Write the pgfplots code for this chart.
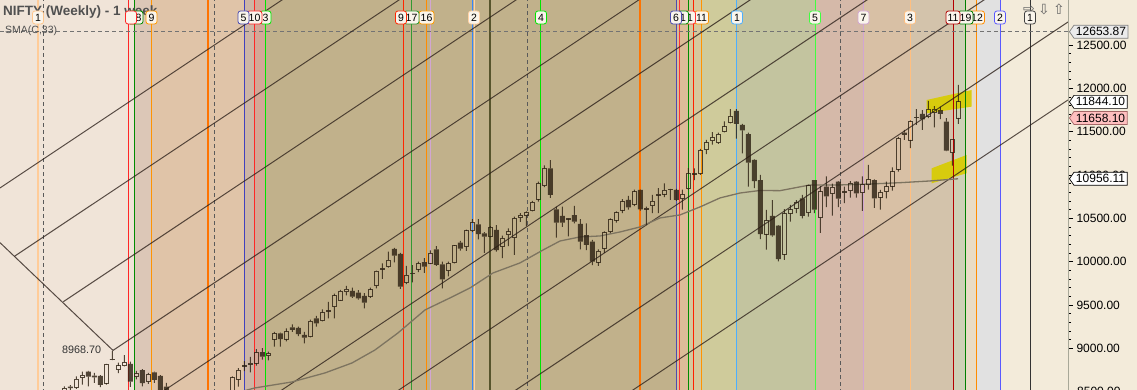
\documentclass[border=0pt]{standalone}
\usepackage{pgfplots}
\usepackage{pgfplotstable}
\pgfplotsset{compat=1.18}
\usepackage{fontspec}
\setmainfont{Liberation Sans}
\newfontfamily\symfont{DejaVu Sans}
\usetikzlibrary{shapes.symbols}

\definecolor{bgA}{HTML}{F0E4D8}
\definecolor{bgB}{HTML}{DCC7B7}
\definecolor{bgC}{HTML}{E0C4A8}
\definecolor{bgD}{HTML}{CDB5A5}
\definecolor{bgE}{HTML}{D3A797}
\definecolor{bgF}{HTML}{C1B18B}
\definecolor{bgG}{HTML}{DCBC98}
\definecolor{bgH}{HTML}{D6C99E}
\definecolor{bgI}{HTML}{CFCB9B}
\definecolor{bgJ}{HTML}{C3C49F}
\definecolor{bgK}{HTML}{D5B9A9}
\definecolor{bgL}{HTML}{D8C0A5}
\definecolor{bgM}{HTML}{D3C3AB}
\definecolor{bgN}{HTML}{CED1B6}
\definecolor{bgO}{HTML}{E9DCC6}
\definecolor{bgP}{HTML}{E1E1E1}
\definecolor{panel}{HTML}{F3EBDA}
\definecolor{candle}{HTML}{2A1E10}
\definecolor{diag}{HTML}{2A1E18}
\definecolor{smacol}{HTML}{7D7460}
\definecolor{yel}{HTML}{D8CC00}
\definecolor{dashc}{HTML}{5A5A5A}
\definecolor{titlec}{HTML}{505050}
\definecolor{axisgray}{HTML}{A8A898}
\definecolor{lblfill}{HTML}{FAF5EC}

\pgfplotstableread{
i o h l c
0 8390 8560 8380 8541
1 8556 8575 8500 8541
2 8545 8675 8530 8645
3 8662 8730 8580 8690
4 8730 8740 8560 8672
5 8683 8715 8600 8663
6 8680 8690 8550 8576
7 8596 8820 8580 8815
8 8875 8968.7 8862 8866
9 8752 8834 8712 8796
10 8796 8920 8790 8838
11 8819 8845 8555 8614
12 8672 8740 8640 8711
13 8747 8760 8560 8596
14 8614 8715 8590 8700
15 8722 8730 8600 8634
16 8680 8690 8400 8433
17 8557 8600 8002 8296
18 8300 8315 8000 8074
19 8050 8180 7917 8114
20 8140 8250 8060 8086
21 8090 8275 8060 8261
22 8260 8275 8100 8139
23 8130 8140 7940 7986
24 7990 8200 7893 8186
25 8190 8260 8140 8244
26 8240 8410 8230 8400
27 8400 8460 8340 8349
28 8370 8675 8360 8660
29 8642 8770 8557 8749
30 8790 8850 8735 8796
31 8815 8900 8720 8827
32 8827 8990 8800 8950
33 8954 9000 8870 8904
34 8915 8960 8860 8942
35 9104 9190 9020 9173
36 9173 9180 9020 9104
37 9107 9230 9080 9192
38 9240 9275 9190 9211
39 9235 9250 9140 9162
40 9153 9190 9055 9123
41 9134 9330 9125 9315
42 9346 9373 9250 9288
43 9319 9450 9310 9411
44 9425 9535 9346 9434
45 9480 9630 9346 9604
46 9557 9675 9550 9661
47 9650 9719 9611 9681
48 9661 9700 9580 9596
49 9642 9670 9560 9577
50 9604 9635 9460 9527
51 9596 9700 9580 9673
52 9723 9897 9690 9892
53 9915 9981 9800 9923
54 9942 10115 9930 10019
55 10146 10160 9990 10069
56 10088 10100 9685 9711
57 9757 9950 9740 9846
58 9858 9960 9760 9865
59 9912 10000 9880 9981
60 9993 10039 9870 9942
61 9981 10130 9970 10097
62 10142 10180 9950 9962
63 9969 10000 9690 9796
64 9896 10000 9830 9981
65 9988 10190 9980 10181
66 10219 10240 10127 10150
67 10173 10370 10123 10354
68 10357 10490 10340 10454
69 10431 10490 10258 10316
70 10327 10340 10100 10289
71 10289 10410 10280 10396
72 10365 10420 10115 10134
73 10173 10300 10040 10269
74 10308 10385 10180 10346
75 10277 10520 10077 10500
76 10508 10560 10460 10538
77 10535 10580 10410 10565
78 10588 10700 10580 10685
79 10720 10923 10692 10904
80 10877 11110 10860 11077
81 11077 11171 10736 10770
82 10604 10634 10276 10450
83 10527 10634 10400 10450
84 10490 10500 10290 10496
85 10538 10642 10442 10461
86 10435 10489 10140 10230
87 10307 10442 10134 10192
88 10230 10250 9960 9999
89 9993 10140 9951 10123
90 10154 10350 10100 10334
91 10346 10500 10330 10481
92 10480 10580 10450 10564
93 10596 10720 10560 10692
94 10712 10760 10600 10627
95 10662 10830 10640 10806
96 10827 10830 10590 10604
97 10605 10634 10420 10616
98 10646 10770 10560 10700
99 10768 10847 10560 10777
100 10781 10904 10743 10827
101 10830 10840 10712 10835
102 10827 10840 10700 10714
103 10727 10830 10600 10777
104 10842 11080 10830 11020
105 11010 11077 10942 11015
106 11015 11300 11000 11285
107 11289 11404 11240 11373
108 11393 11495 11350 11435
109 11373 11490 11360 11473
110 11500 11620 11493 11558
111 11604 11760 11597 11681
112 11740 11760 11420 11589
113 11577 11590 11250 11515
114 11473 11490 10866 11143
115 11173 11180 10847 10930
116 10942 11000 10261 10316
117 10319 10596 10138 10472
118 10527 10710 10289 10303
119 10415 10420 10004 10030
120 10085 10606 10020 10553
121 10558 10654 10461 10600
122 10616 10710 10560 10682
123 10731 10770 10500 10527
124 10565 10890 10520 10877
125 10942 10942 10560 10600
126 10507 10870 10333 10805
127 10866 10985 10630 10754
128 10789 10900 10530 10860
129 10923 10930 10630 10727
130 10800 10866 10674 10808
131 10816 10930 10740 10904
132 10923 10930 10740 10789
133 10796 10983 10585 10894
134 10885 11118 10830 10950
135 10942 10950 10620 10731
136 10743 10827 10600 10796
137 10808 10923 10730 10866
138 10873 11089 10820 11035
139 11069 11440 11040 11424
140 11489 11520 11404 11462
141 11404 11630 11311 11616
142 11660 11761 11577 11665
143 11704 11750 11520 11642
144 11673 11856 11655 11759
145 11720 11796 11550 11759
146 11750 11789 11645 11704
147 11616 11655 11275 11281
148 11258 11412 11108 11412
149 11658.1 12041 11591 11844.1
}\candles

\pgfplotsset{
  band/.style={draw=none, fill=#1},
  vl/.style={draw=#1, line width=0.9pt},
  dl/.style={draw=dashc, line width=0.9pt, dash pattern=on 4pt off 3pt},
  dg/.style={draw=diag, draw opacity=0.78, line width=1pt},
  common/.style={at={(0pt,0pt)}, anchor=south west, width=1068pt, height=390pt,
    scale only axis, xmin=0, xmax=1068, ymin=8518, ymax=13020, clip mode=individual},
}
\tikzset{
  lbl/.style={draw=#1, fill=lblfill, rounded corners=2.5pt, line width=0.8pt,
    inner xsep=1.6pt, inner ysep=0pt, minimum height=13pt, minimum width=11pt,
    font=\fontsize{10.5}{10.5}\selectfont, text=black},
  tag/.style={signal, signal to=west, signal pointer angle=110, draw=#1, line width=0.7pt,
    inner xsep=2pt, inner ysep=1pt, minimum height=13pt, anchor=west,
    font=\fontsize{12}{12}\selectfont, text=black},
}

\begin{document}
\begin{tikzpicture}
\useasboundingbox (0,0) rectangle (1137pt,390pt);
\clip (0,0) rectangle (1137pt,390pt);
\fill[panel] (0,0) rectangle (1137pt,390pt);

\begin{axis}[common, axis x line=none, axis y line*=right, axis on top,
  ytick={9000,9500,...,12500}, minor y tick num=4, tick align=outside,
  major tick length=5pt, minor tick length=3pt, scaled y ticks=false,
  y axis line style={draw=axisgray, line width=0.8pt},
  tick style={black, line width=0.6pt},
  yticklabel style={font=\fontsize{12}{12}\selectfont, text=black,
    /pgf/number format/fixed, /pgf/number format/fixed zerofill,
    /pgf/number format/precision=2, /pgf/number format/1000 sep={},
    /pgf/number format/assume math mode=true}]
% background bands
\addplot[band=bgA] coordinates {(0,8000) (0,14000) (134.3,14000) (134.3,8000)} -- cycle;
\addplot[band=bgB] coordinates {(134.3,8000) (134.3,14000) (151.3,14000) (151.3,8000)} -- cycle;
\addplot[band=bgC] coordinates {(151.3,8000) (151.3,14000) (244.3,14000) (244.3,8000)} -- cycle;
\addplot[band=bgD] coordinates {(244.3,8000) (244.3,14000) (254.7,14000) (254.7,8000)} -- cycle;
\addplot[band=bgE] coordinates {(254.7,8000) (254.7,14000) (265.3,14000) (265.3,8000)} -- cycle;
\addplot[band=bgF] coordinates {(265.3,8000) (265.3,14000) (676.7,14000) (676.7,8000)} -- cycle;
\addplot[band=bgG] coordinates {(676.7,8000) (676.7,14000) (688.3,14000) (688.3,8000)} -- cycle;
\addplot[band=bgH] coordinates {(688.3,8000) (688.3,14000) (701.7,14000) (701.7,8000)} -- cycle;
\addplot[band=bgI] coordinates {(701.7,8000) (701.7,14000) (736.7,14000) (736.7,8000)} -- cycle;
\addplot[band=bgJ] coordinates {(736.7,8000) (736.7,14000) (815,14000) (815,8000)} -- cycle;
\addplot[band=bgK] coordinates {(815,8000) (815,14000) (863.3,14000) (863.3,8000)} -- cycle;
\addplot[band=bgL] coordinates {(863.3,8000) (863.3,14000) (910,14000) (910,8000)} -- cycle;
\addplot[band=bgM] coordinates {(910,8000) (910,14000) (953.3,14000) (953.3,8000)} -- cycle;
\addplot[band=bgN] coordinates {(953.3,8000) (953.3,14000) (965.7,14000) (965.7,8000)} -- cycle;
\addplot[band=bgO] coordinates {(965.7,8000) (965.7,14000) (976.7,14000) (976.7,8000)} -- cycle;
\addplot[band=bgP] coordinates {(976.7,8000) (976.7,14000) (1000,14000) (1000,8000)} -- cycle;
% yellow highlights
\addplot[draw=none, fill=yel, fill opacity=0.92] coordinates {(926.7,11866) (971.7,11981) (971.7,11789) (926.7,11712)} -- cycle;
\addplot[draw=none, fill=yel, fill opacity=0.92] coordinates {(931.7,11077) (966.7,11231) (966.7,11020) (931.7,10904)} -- cycle;
% vertical lines
\addplot[vl=orange!40!white, line width=1.2pt] coordinates {(38,8000) (38,14000)};
\addplot[dl] coordinates {(43.3,8000) (43.3,14000)};
\addplot[vl={red!85!white}] coordinates {(128.3,8000) (128.3,14000)};
\addplot[vl={green!55!black}] coordinates {(134.3,8000) (134.3,14000)};
\addplot[vl={orange!85!yellow}] coordinates {(151.3,8000) (151.3,14000)};
\addplot[vl={orange!90!red}, line width=2.2pt] coordinates {(208,8000) (208,14000)};
\addplot[dl] coordinates {(214.3,8000) (214.3,14000)};
\addplot[vl={blue!50!gray}] coordinates {(244.3,8000) (244.3,14000)};
\addplot[vl={red!85!white}] coordinates {(254.7,8000) (254.7,14000)};
\addplot[vl={green!90!black}] coordinates {(265.3,8000) (265.3,14000)};
\addplot[vl={red!70!orange}] coordinates {(403.3,8000) (403.3,14000)};
\addplot[vl={green!50!black!80!white}] coordinates {(411.7,8000) (411.7,14000)};
\addplot[vl={orange!90!yellow}] coordinates {(426,8000) (426,14000)};
\addplot[vl={violet!35!white}] coordinates {(430,8000) (430,14000)};
\addplot[vl={blue!60!cyan!80!white}, line width=1.5pt] coordinates {(472.7,8000) (472.7,14000)};
\addplot[vl={orange!35!white}] coordinates {(474.5,8000) (474.5,14000)};
\addplot[vl={olive!50!black}, line width=2.2pt] coordinates {(490,8000) (490,14000)};
\addplot[dl] coordinates {(527.7,8000) (527.7,14000)};
\addplot[vl={green!90!black}] coordinates {(540.7,8000) (540.7,14000)};
\addplot[vl={orange!90!red}, line width=2.2pt] coordinates {(640,8000) (640,14000)};
\addplot[vl={blue!40!gray}] coordinates {(676.7,8000) (676.7,14000)};
\addplot[vl={red!80!white}] coordinates {(679,8000) (679,14000)};
\addplot[vl={green!55!black}] coordinates {(688.3,8000) (688.3,14000)};
\addplot[vl={red!75!orange}] coordinates {(693.3,8000) (693.3,14000)};
\addplot[vl={orange!85!yellow}] coordinates {(701.7,8000) (701.7,14000)};
\addplot[vl={blue!45!cyan!70!white}] coordinates {(736.7,8000) (736.7,14000)};
\addplot[vl={green!75!white}] coordinates {(815,8000) (815,14000)};
\addplot[dl] coordinates {(840.7,8000) (840.7,14000)};
\addplot[vl={violet!35!white}] coordinates {(863.3,8000) (863.3,14000)};
\addplot[vl={orange!50!white}] coordinates {(910,8000) (910,14000)};
\addplot[vl={red!70!black}] coordinates {(953.3,8000) (953.3,14000)};
\addplot[vl={green!50!black}] coordinates {(965.7,8000) (965.7,14000)};
\addplot[vl={orange!90!yellow}] coordinates {(976.7,8000) (976.7,14000)};
\addplot[vl={blue!65!white}] coordinates {(1000,8000) (1000,14000)};
\addplot[vl={black!80}] coordinates {(1030,8000) (1030,14000)};
% horizontal dashed level
\addplot[draw=dashc!85!white, line width=0.9pt, dash pattern=on 4pt off 3pt] coordinates {(0,12653.87) (1068,12653.87)};
% diagonal lines
\addplot[dg] coordinates {(0,10219) (113,8975)};
\addplot[dg] coordinates {(0,10850) (300,13159)};
\addplot[dg] coordinates {(14.4,10061) (410,13105)};
\addplot[dg] coordinates {(63.3,9537) (527,13105)};
\addplot[dg] coordinates {(113,8975) (650,13107)};
\addplot[dg] coordinates {(150,8403) (760,13097)};
\addplot[dg] coordinates {(270,8427) (880,13121)};
\addplot[dg] coordinates {(385,8412) (1000,13144)};
\addplot[dg] coordinates {(500,8396) (1068,12766)};
\addplot[dg] coordinates {(615,8380) (1068,11866)};
% SMA(C,33)
\addplot[draw=smacol, line width=1.3pt] coordinates {
(240,8496) (255,8542) (292,8611) (325,8715) (352,8830) (375,8980) (398,9177) (425,9442)
(450,9581) (470,9696) (493,9869) (520,9985) (543,10134) (560,10238) (580,10285) (600,10296)
(620,10342) (640,10400) (660,10504) (680,10539) (700,10631) (720,10735) (740,10792) (760,10821)
(780,10819) (810,10885) (840,10885) (870,10896) (900,10911) (930,10931) (958,10956.11)};
\end{axis}

\begin{axis}[common, hide axis, ybar stacked]
\addplot[draw=none, fill=none, bar width=1pt] table[x expr=64.3+6*\thisrow{i}, y=l] {\candles};
\addplot[draw=none, fill=candle, fill opacity=0.8, bar width=1pt] table[x expr=64.3+6*\thisrow{i}, y expr={min(\thisrow{o},\thisrow{c})-\thisrow{l}}] {\candles};
\addplot[draw=candle, draw opacity=0.8, fill=none, line width=0.9pt, bar width=4.2pt] table[x expr=64.3+6*\thisrow{i}, y expr={max(\thisrow{c}-\thisrow{o},0)}] {\candles};
\addplot[draw=none, fill=candle, fill opacity=0.8, bar width=5.1pt] table[x expr=64.3+6*\thisrow{i}, y expr={max(\thisrow{o}-\thisrow{c},0)}] {\candles};
\addplot[draw=none, fill=candle, fill opacity=0.8, bar width=1pt] table[x expr=64.3+6*\thisrow{i}, y expr={\thisrow{h}-max(\thisrow{o},\thisrow{c})}] {\candles};

% top labels
\node[lbl={orange!45!white}] at (axis cs:38,12818) {1};
\node[lbl={red!85!white}] at (axis cs:131,12818) {\phantom{1}};
\node[lbl={green!55!black}] at (axis cs:135.5,12818) {18};
\node[lbl={orange!80!yellow}] at (axis cs:151.5,12818) {9};
\node[lbl={blue!40!gray}] at (axis cs:243.5,12818) {5};
\node[lbl={red!85!white}] at (axis cs:254.5,12818) {10};
\node[lbl={green!90!black}] at (axis cs:265.5,12818) {3};
\node[lbl={red!70!orange}] at (axis cs:401,12818) {9};
\node[lbl={green!50!black!80!white}] at (axis cs:411.5,12818) {17};
\node[lbl={orange!80!yellow}] at (axis cs:426.5,12818) {16};
\node[lbl={orange!35!white}] at (axis cs:474,12818) {2};
\node[lbl={green!90!black}] at (axis cs:541,12818) {4};
\node[lbl={blue!40!gray}] at (axis cs:676,12818) {6};
\node[lbl={green!55!black}] at (axis cs:683,12818) {1};
\node[lbl={red!80!white}] at (axis cs:690,12818) {1};
\node[lbl={orange!85!yellow}] at (axis cs:701.5,12818) {11};
\node[lbl={blue!45!cyan!70!white}] at (axis cs:737,12818) {1};
\node[lbl={green!75!white}] at (axis cs:815,12818) {5};
\node[lbl={violet!35!white}] at (axis cs:863.5,12818) {7};
\node[lbl={orange!50!white}] at (axis cs:910,12818) {3};
\node[lbl={red!70!black}] at (axis cs:953,12818) {11};
\node[lbl={green!50!black}] at (axis cs:965.5,12818) {19};
\node[lbl={orange!90!yellow}] at (axis cs:977,12818) {12};
\node[lbl={blue!65!white}] at (axis cs:1000,12818) {2};
\node[lbl={black!75}] at (axis cs:1030,12818) {1};

% texts
\node[anchor=west, inner sep=0pt, font=\bfseries\fontsize{13.5}{13.5}\selectfont, text=titlec] at (axis cs:3,12881) {NIFTY (Weekly) - 1 week};
\node[anchor=west, inner sep=0pt, font=\fontsize{10.5}{10.5}\selectfont, text=titlec] at (axis cs:5,12668) {SMA(C,33)};
\node[anchor=west, inner sep=0pt, font=\fontsize{10.8}{10.8}\selectfont, text=black!80] at (axis cs:62,8985) {8968.70};

% arrows
\node[inner sep=0pt, font=\symfont\fontsize{14}{14}\selectfont, text=black!60] at (axis cs:1029,12912) {⇨};
\node[inner sep=0pt, font=\symfont\fontsize{14}{14}\selectfont, text=black!60] at (axis cs:1044,12912) {⇩};
\node[inner sep=0pt, font=\symfont\fontsize{14}{14}\selectfont, text=black!60] at (axis cs:1059,12912) {⇧};

% partly visible bottom tick label
\node[anchor=west, inner sep=0pt, font=\fontsize{12}{12}\selectfont] at (axis cs:1077,8500) {8500.00};

% price tags
\node[tag=black!50, fill=black!8] at (axis cs:1069,12653.87) {12653.87};
\node[tag=black, fill=white] at (axis cs:1069,11844.10) {11844.10};
\node[tag=red!40!black!60, fill=red!25!white] at (axis cs:1069,11658.10) {11658.10};
\node[tag=black, fill=white] at (axis cs:1069,10956.11) {10956.11};
\end{axis}
\end{tikzpicture}
\end{document}
